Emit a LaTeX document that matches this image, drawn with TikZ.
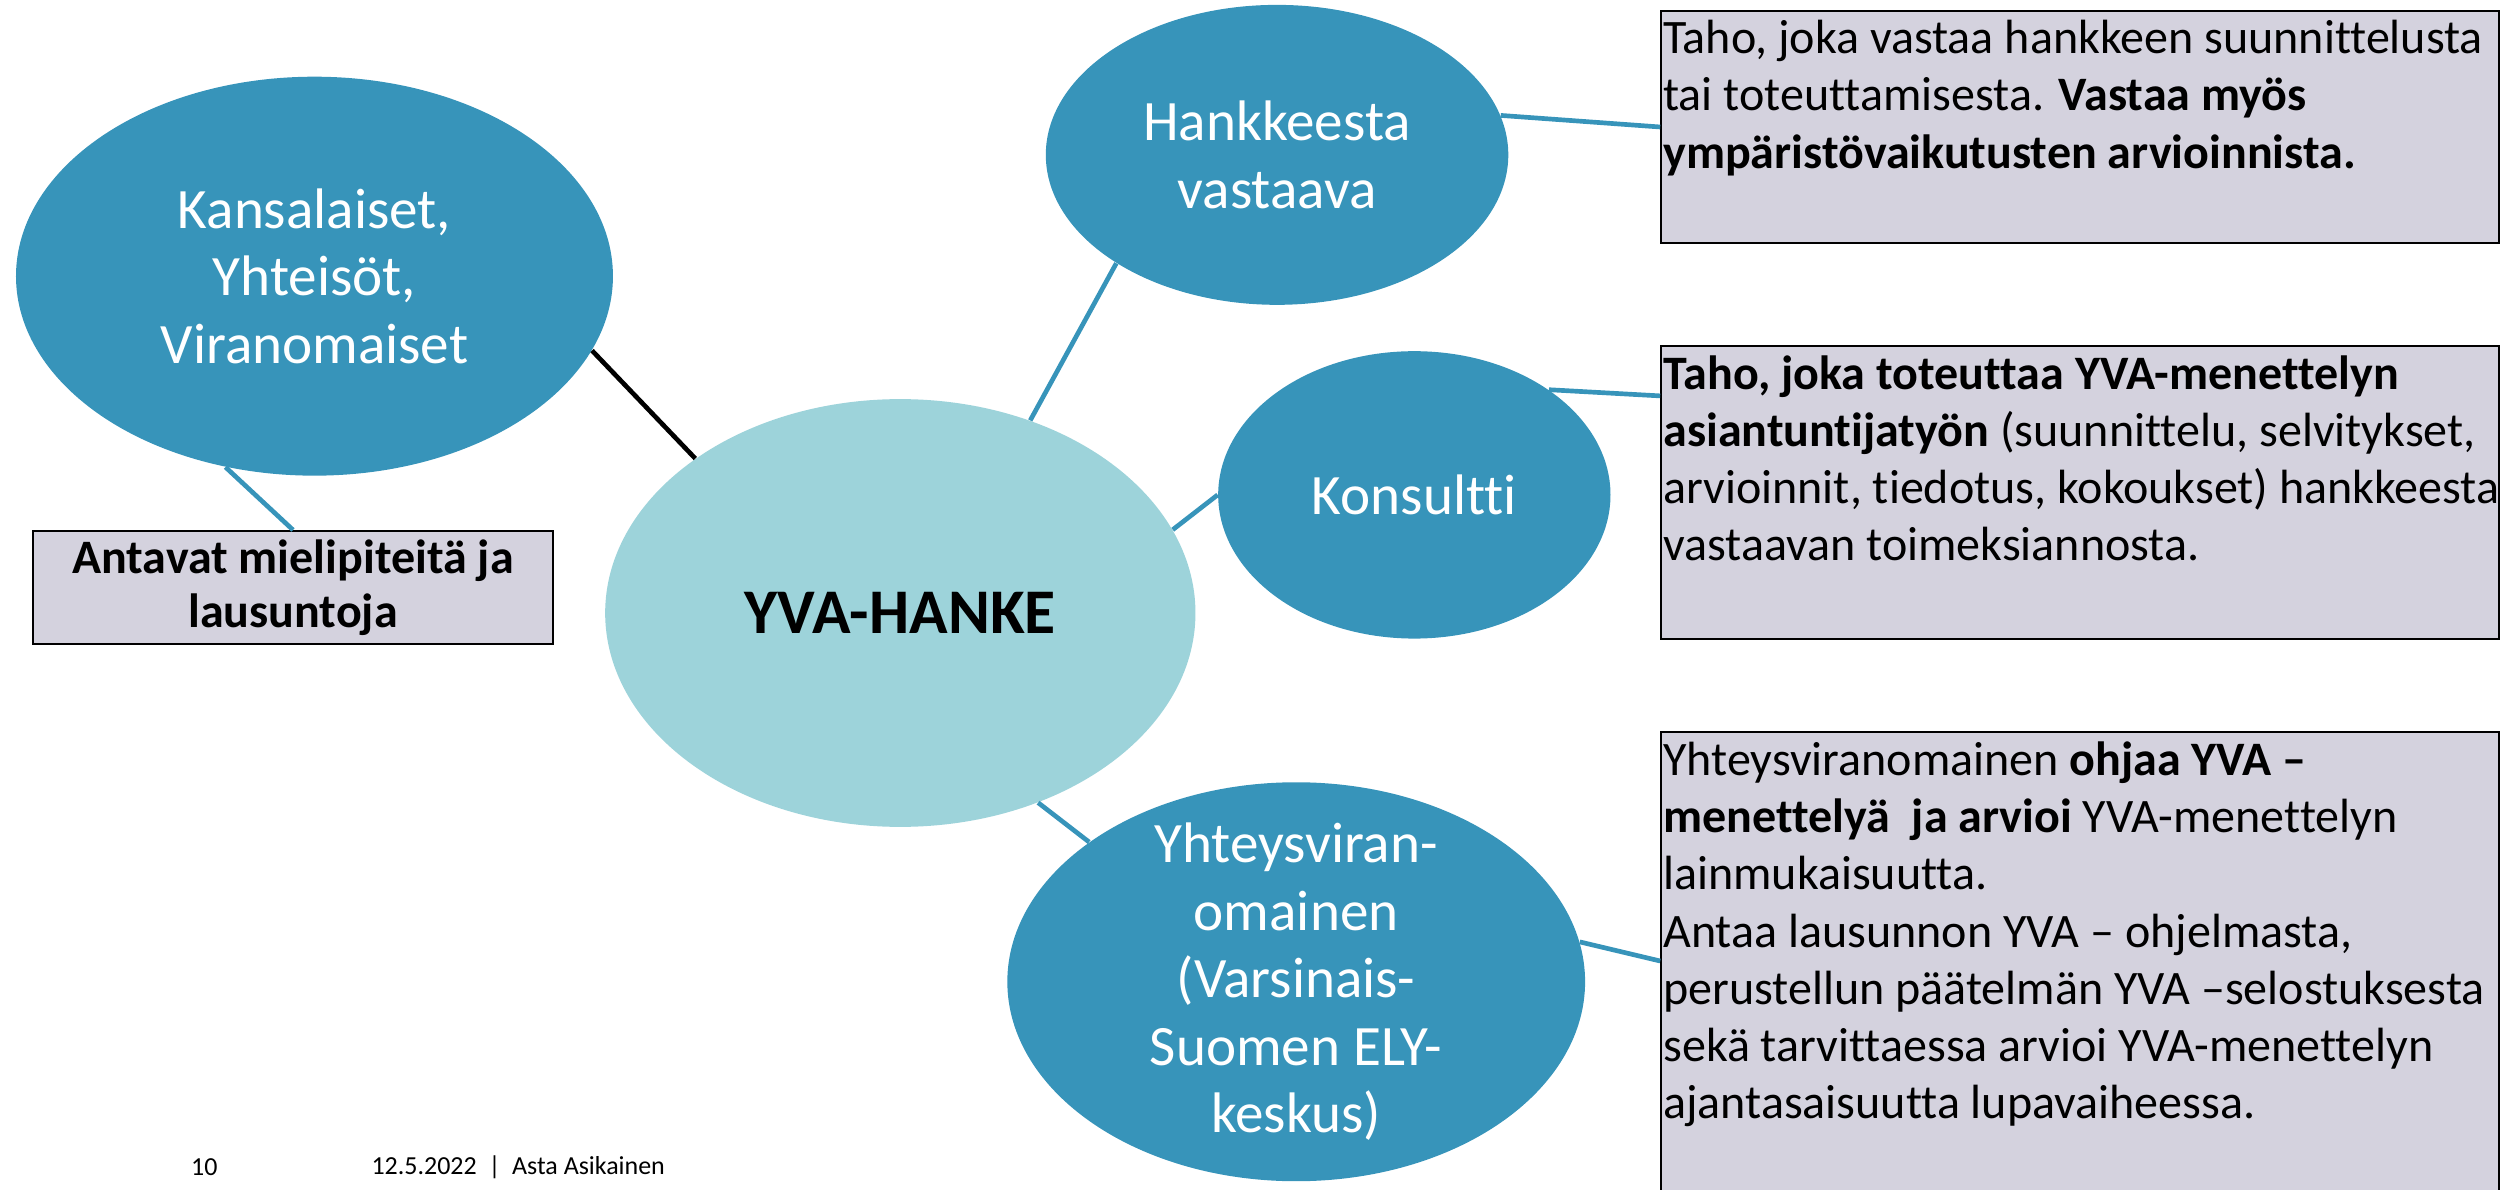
\documentclass[tikz,border=0pt]{standalone}
\usepackage{fontspec}
\setmainfont{Carlito}[Ligatures=NoCommon]
\usepackage{tikz}
\usetikzlibrary{shapes,positioning,calc}
\definecolor{yvablue}{RGB}{55,148,186}
\definecolor{yvateal}{RGB}{157,211,218}
\definecolor{yvagray}{RGB}{212,210,222}
\tikzset{
  bubble/.style={ellipse, fill=yvablue, inner sep=0pt},
  bubbletext/.style={text=white, align=center, font=\fontsize{22}{26}\selectfont},
  infobox/.style={draw=black, line width=0.8pt, fill=yvagray, inner sep=0pt, anchor=north west},
  infotext/.style={anchor=north west, align=left, inner xsep=1pt, inner ysep=4pt, font=\fontsize{18.5}{22}\selectfont},
  link/.style={yvablue, line width=1.8pt},
}

\begin{document}
\begin{tikzpicture}[x=0.0216cm, y=-0.0216cm]
\useasboundingbox (0,0) rectangle (1568,745);

\node[bubble, minimum width=8.08cm, minimum height=5.40cm] (kans) at (197,173) {};
\node[bubbletext] (kans-t) at (kans) {Kansalaiset,\\Yhteisöt,\\Viranomaiset};
\node[bubble, minimum width=6.26cm, minimum height=4.06cm] (hank) at (800,97) {};
\node[bubbletext] (hank-t) at (hank) {Hankkeesta\\vastaava};
\node[bubble, minimum width=5.31cm, minimum height=3.89cm] (kons) at (886,310) {};
\node[bubbletext] (kons-t) at (kons) {Konsultti};
\node[bubble, minimum width=7.82cm, minimum height=5.40cm] (yht) at (812,615) {};
\node[bubbletext] (yht-t) at (yht) {Yhteysviran-\\omainen\\(Varsinais-\\Suomen ELY-\\keskus)};
\node[ellipse, fill=yvateal, inner sep=0pt, minimum width=7.99cm, minimum height=5.79cm] (yva) at (564,384) {};
\node[font=\fontsize{24.5}{29}\selectfont\bfseries] (yva-t) at (yva) {YVA-HANKE};

\node[infobox, minimum width=7.04cm, minimum height=1.53cm, align=center, font=\fontsize{18.5}{21}\selectfont\bfseries] (boxA) at (20,332) {Antavat mielipiteitä ja\\lausuntoja};
\node[infobox, minimum width=11.34cm, minimum height=3.15cm] (box1) at (1040,6) {};
\node[infotext] (box1-t) at (box1.north west) {Taho, joka vastaa hankkeen suunnittelusta\\tai toteuttamisesta. \textbf{Vastaa myös}\\\textbf{ympäristövaikutusten arvioinnista.}};
\node[infobox, minimum width=11.34cm, minimum height=3.97cm] (box2) at (1040,216) {};
\node[infotext] (box2-t) at (box2.north west) {\textbf{Taho, joka toteuttaa YVA-menettelyn}\\\textbf{asiantuntijatyön} (suunnittelu, selvitykset,\\arvioinnit, tiedotus, kokoukset) hankkeesta\\vastaavan toimeksiannosta.};
\node[infobox, minimum width=11.34cm, minimum height=6.31cm] (box3) at (1040,458) {};
\node[infotext] (box3-t) at (box3.north west) {Yhteysviranomainen \textbf{ohjaa YVA –}\\\textbf{menettelyä\ \ ja arvioi} YVA-menettelyn\\lainmukaisuutta.\\Antaa lausunnon YVA – ohjelmasta,\\perustellun päätelmän YVA –selostuksesta\\sekä tarvittaessa arvioi YVA-menettelyn\\ajantasaisuutta lupavaiheessa.};

\draw[link] (kans.245) -- (boxA.north);
\draw[line width=1.8pt] (kans.-15) -- (yva.143);
\draw[link] (yva.56) -- (hank.214);
\draw[link] (yva.17) -- (kons.west);
\draw[link] (yva.-54) -- (yht.146);
\draw[link] (hank.10) -- (box1.west);
\draw[link] (kons.38) -- ($(box2.north west)+(0,32)$);
\draw[link] (yht.8) -- ($(box3.north west)+(0,144)$);

\node[font=\fontsize{10}{12}\selectfont] (pagenr) at (128,731) {10};
\node[anchor=west, font=\fontsize{10}{12}\selectfont] (footer) at (227,731) {12.5.2022\ \ |\ \ Asta Asikainen};
\end{tikzpicture}
\end{document}
